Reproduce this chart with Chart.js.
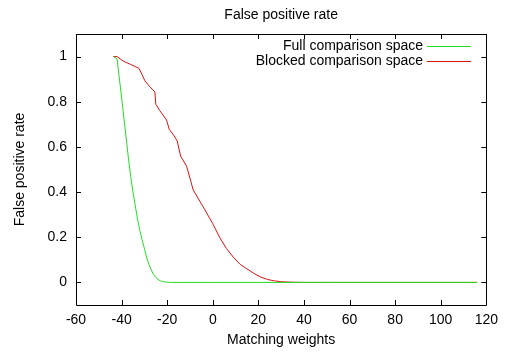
<!DOCTYPE html>
<html>
<head>
<meta charset="utf-8">
<script src="https://cdn.jsdelivr.net/npm/chart.js@4.4.0/dist/chart.umd.min.js"></script>
<style>
html,body{margin:0;padding:0;background:#fff;}
#c{display:block;}
</style>
</head>
<body>
<canvas id="c" width="505" height="352"></canvas>
<script>
const chartTitle = "False positive rate";
const xTitle = "Matching weights";
const yTitle = "False positive rate";
const seriesNames = ["Full comparison space", "Blocked comparison space"];
const xTicks = [-60, -40, -20, 0, 20, 40, 60, 80, 100, 120];
const yTicks = [0, 0.2, 0.4, 0.6, 0.8, 1];

const fullX = [-43.5, -42, -40, -38, -37, -36, -35, -34, -33, -32, -31, -30, -29, -28, -27, -26, -25, -24, -23, -22, -21, -20, -18, -15, 0, 50, 116];
const fullY = [1, 0.99, 0.82, 0.64, 0.55, 0.47, 0.40, 0.34, 0.28, 0.23, 0.19, 0.15, 0.11, 0.08, 0.055, 0.035, 0.022, 0.013, 0.007, 0.004, 0.002, 0.001, 0, 0, 0, 0, 0];

const blockedX = [-43.7, -42, -39.3, -36, -32.4, -31, -29.8, -27.5, -25.4, -25, -23.2, -20.3, -19.1, -17, -15.6, -14.1, -11.5, -10.5, -8.6, -6, -3.5, 0, 3, 6, 9, 12, 15, 18, 21, 24, 27, 30, 35, 40, 116];
const blockedY = [1, 1, 0.98, 0.965, 0.948, 0.92, 0.893, 0.865, 0.844, 0.789, 0.76, 0.72, 0.678, 0.65, 0.626, 0.559, 0.515, 0.48, 0.41, 0.365, 0.322, 0.26, 0.2, 0.15, 0.112, 0.08, 0.06, 0.04, 0.024, 0.013, 0.007, 0.003, 0.001, 0, 0];

const colors = ["#22dd22", "#dd1111"];
const FONT = "'Liberation Sans', Arial, sans-serif";

function pts(xs, ys){ return xs.map((x,i)=>({x:x, y:ys[i]})); }

const framePlugin = {
  id: 'frame',
  afterDraw(chart){
    const ctx = chart.ctx, a = chart.chartArea;
    const xs = chart.scales.x, ys = chart.scales.y;
    ctx.save();
    ctx.strokeStyle = '#000';
    ctx.lineWidth = 1;
    ctx.beginPath();
    ctx.rect(Math.round(a.left)+0.5, Math.round(a.top)+0.5, Math.round(a.right-a.left), Math.round(a.bottom-a.top));
    ctx.stroke();
    const L = 5;
    ctx.beginPath();
    xTicks.forEach(v=>{
      const px = Math.round(xs.getPixelForValue(v))+0.5;
      ctx.moveTo(px, a.bottom); ctx.lineTo(px, a.bottom-L);
      ctx.moveTo(px, a.top); ctx.lineTo(px, a.top+L);
    });
    yTicks.forEach(v=>{
      const py = Math.round(ys.getPixelForValue(v))+0.5;
      ctx.moveTo(a.left, py); ctx.lineTo(a.left+L, py);
      ctx.moveTo(a.right, py); ctx.lineTo(a.right-L, py);
    });
    ctx.stroke();
    // legend
    ctx.font = '14px ' + FONT;
    ctx.textAlign = 'right';
    ctx.textBaseline = 'middle';
    ctx.fillStyle = '#000';
    const rows = [46, 61];
    chart.data.datasets.forEach((ds, i)=>{
      ctx.fillText(ds.label, 423, rows[i]);
      ctx.strokeStyle = ds.borderColor;
      ctx.beginPath();
      ctx.moveTo(427, rows[i]+0.5); ctx.lineTo(471, rows[i]+0.5);
      ctx.stroke();
    });
    ctx.restore();
  }
};

new Chart(document.getElementById('c'), {
  type: 'line',
  data: {
    datasets: [
      { label: seriesNames[0], data: pts(fullX, fullY), borderColor: colors[0], borderWidth: 1, pointRadius: 0, tension: 0, fill: false },
      { label: seriesNames[1], data: pts(blockedX, blockedY), borderColor: colors[1], borderWidth: 1, pointRadius: 0, tension: 0, fill: false }
    ]
  },
  options: {
    responsive: false,
    animation: false,
    devicePixelRatio: 1,
    layout: { padding: { left: 0, right: 18, top: 0, bottom: 0 } },
    plugins: {
      legend: { display: false },
      tooltip: { enabled: false },
      title: {
        display: true, text: chartTitle, fullSize: false,
        color: '#000', font: { family: FONT, size: 14, weight: 'normal' },
        padding: { top: 6.6, bottom: 10.6 }
      }
    },
    scales: {
      x: {
        type: 'linear', min: -60, max: 120,
        grid: { display: false, drawTicks: false },
        border: { display: false },
        afterBuildTicks(s){ s.ticks = xTicks.map(v=>({value:v})); },
        afterFit(s){ s.height = 47; },
        ticks: { color: '#000', padding: 7, maxRotation: 0, font: { family: FONT, size: 14 }, callback: v => String(v) },
        title: { display: true, text: xTitle, color: '#000', font: { family: FONT, size: 14 }, padding: { top: 0, bottom: 3.6 } }
      },
      y: {
        type: 'linear', min: -0.1, max: 1.1,
        grid: { display: false, drawTicks: false },
        border: { display: false },
        afterBuildTicks(s){ s.ticks = yTicks.map(v=>({value:v})); },
        afterFit(s){ s.width = 76; },
        ticks: { color: '#000', padding: 9, font: { family: FONT, size: 14 }, callback: v => String(Math.round(v*10)/10) },
        title: { display: true, text: yTitle, color: '#000', font: { family: FONT, size: 14 }, padding: { top: 11.6, bottom: 0 } }
      }
    }
  },
  plugins: [framePlugin]
});
</script>
</body>
</html>
